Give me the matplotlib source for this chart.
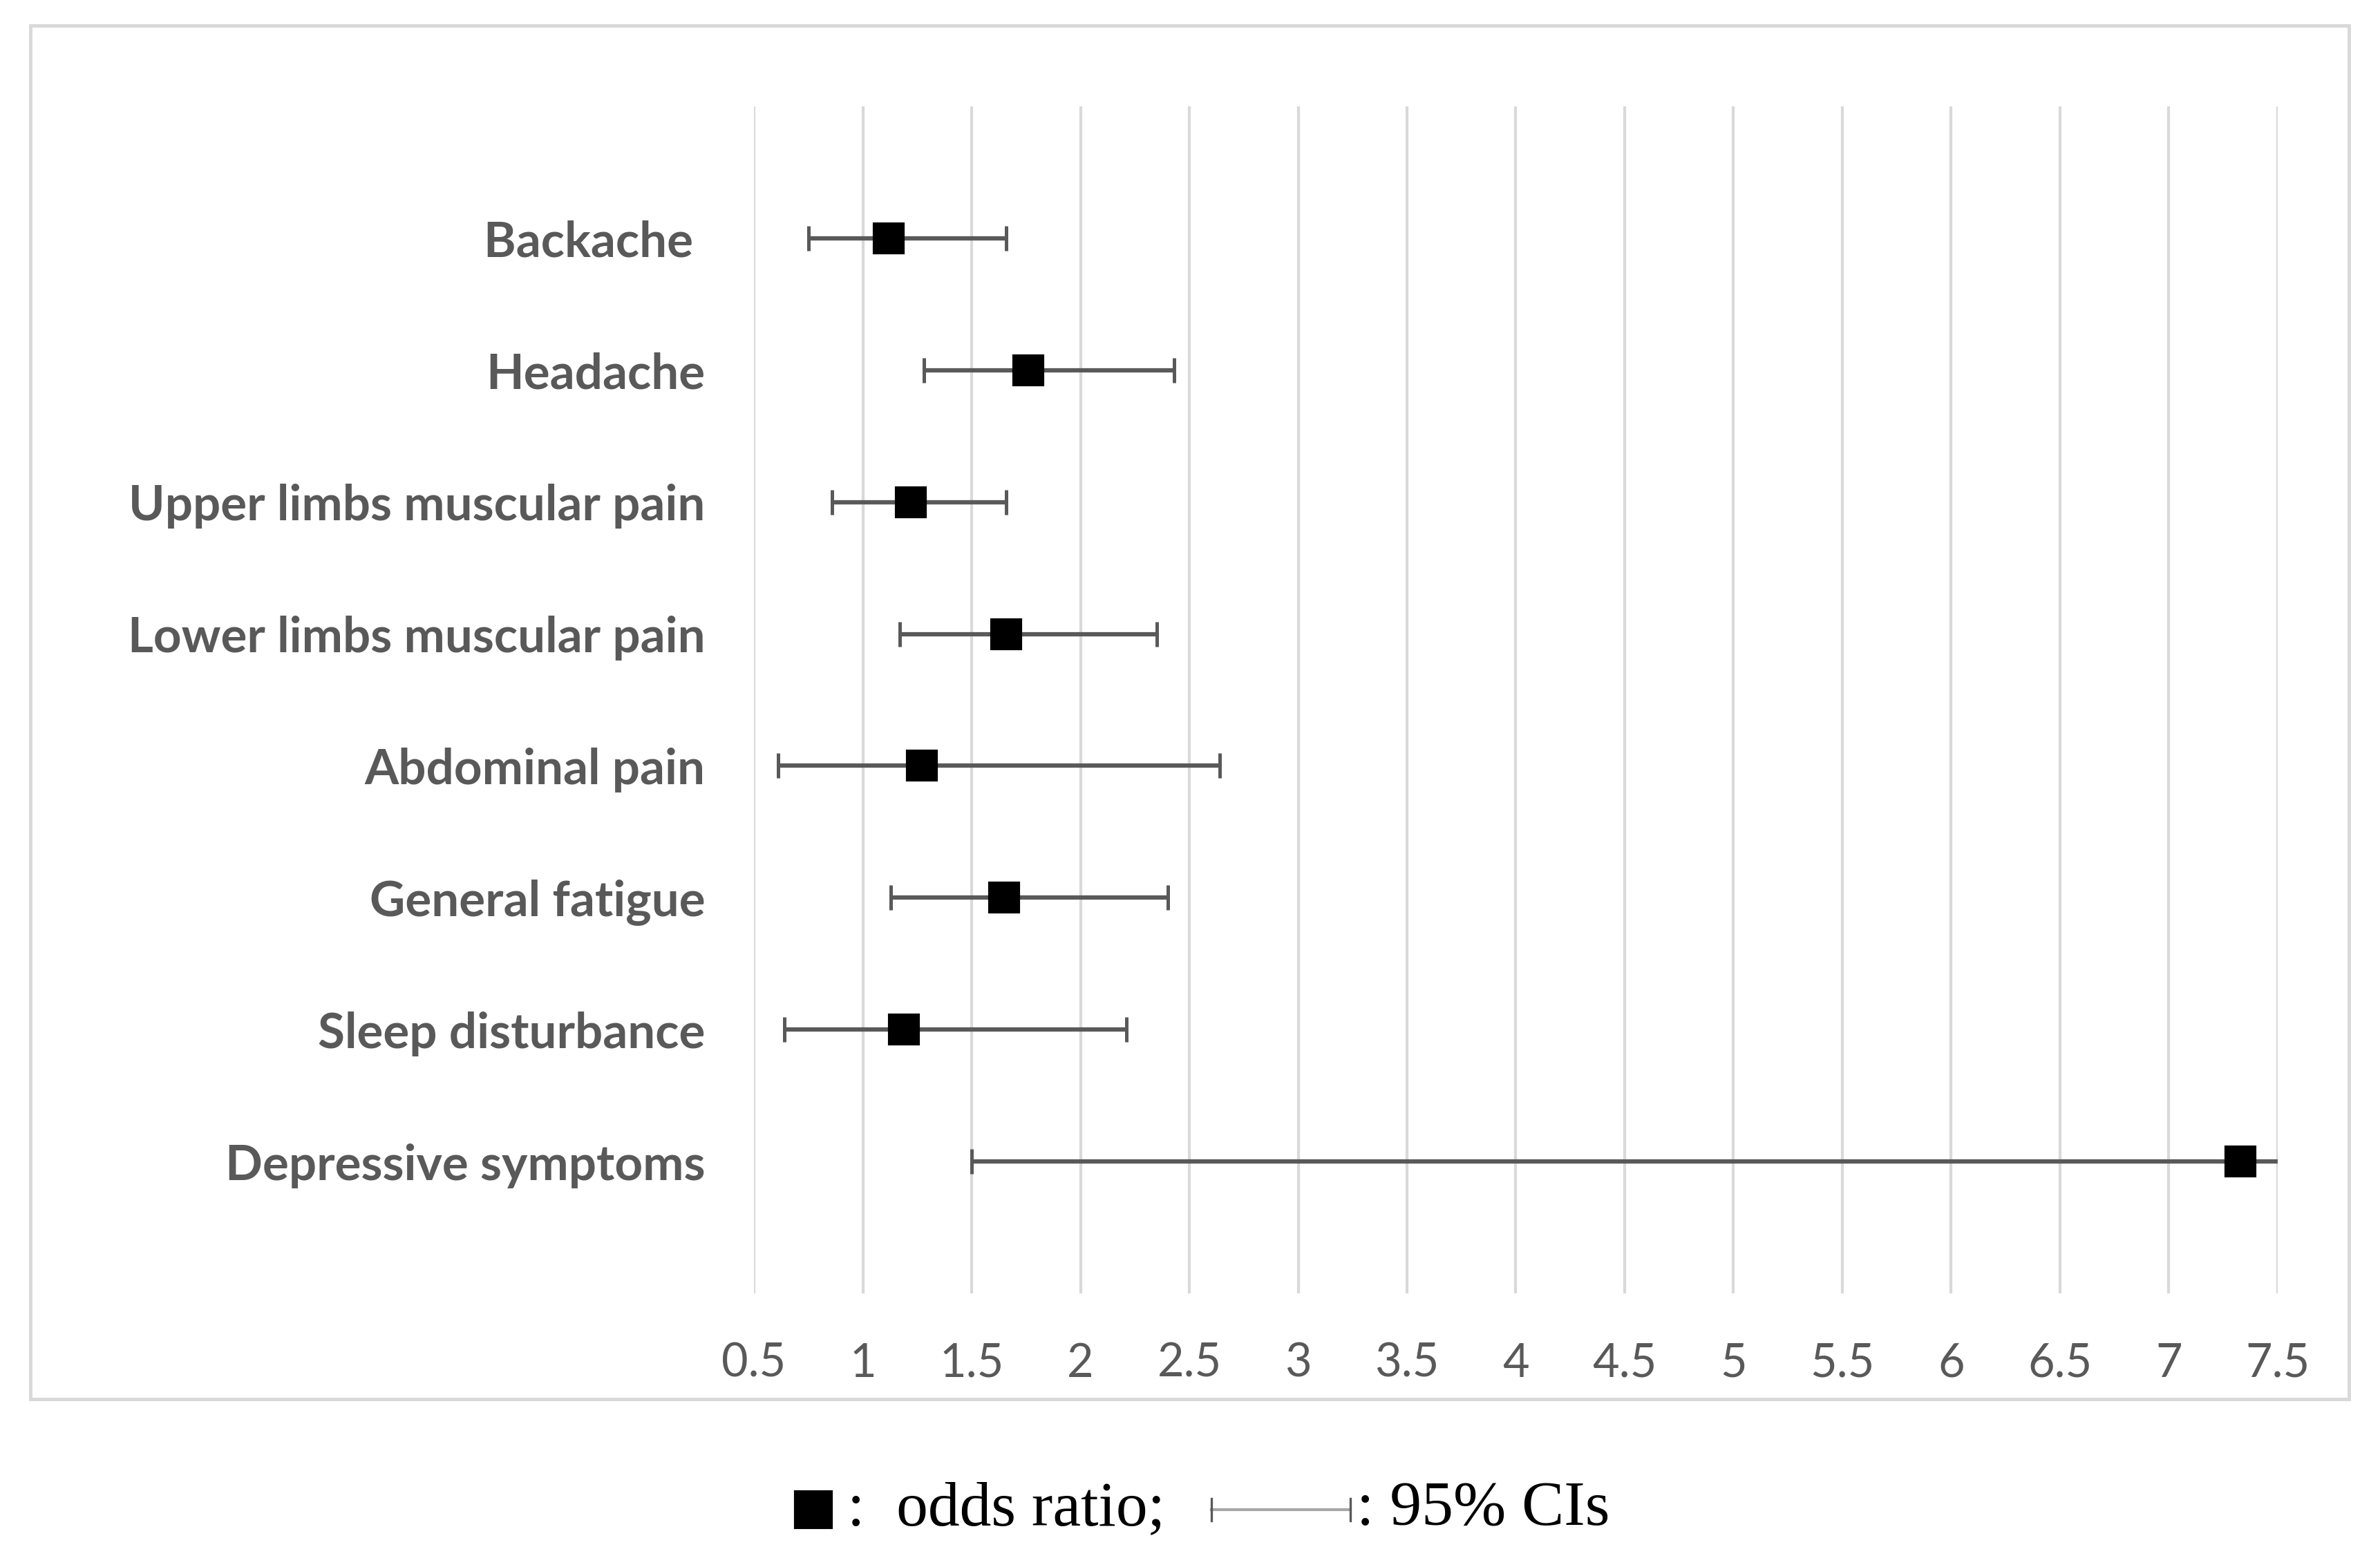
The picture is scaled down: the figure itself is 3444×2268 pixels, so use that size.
import matplotlib.pyplot as plt
from matplotlib.lines import Line2D
from matplotlib.patches import Rectangle

# Odds ratios with 95% CIs.
SYMPTOMS = [
    "Backache ",
    "Headache",
    "Upper limbs muscular pain",
    "Lower limbs muscular pain",
    "Abdominal pain",
    "General fatigue",
    "Sleep disturbance",
    "Depressive symptoms",
]
ODDS_RATIO = [1.12, 1.76, 1.22, 1.66, 1.27, 1.65, 1.19, 7.33]
CI_LOW = [0.75, 1.28, 0.86, 1.17, 0.61, 1.13, 0.64, 1.50]
CI_HIGH = [1.66, 2.43, 1.66, 2.35, 2.64, 2.40, 2.21, 8.00]  # last one runs off the axis
X_TICKS = [0.5, 1, 1.5, 2, 2.5, 3, 3.5, 4, 4.5, 5, 5.5, 6, 6.5, 7, 7.5]

TEXT = "#595959"
GRID = "#d9d9d9"
SANS = ["Lato", "DejaVu Sans"]
SERIF = ["Liberation Serif", "DejaVu Serif"]


def main():
    fig = plt.figure(figsize=(11.48, 7.56), dpi=300)
    ax = fig.add_axes([0.3168, 0.1746, 0.9570 - 0.3168, 0.9321 - 0.1746])

    ypos = list(range(len(SYMPTOMS)))
    xerr = [[o - lo for o, lo in zip(ODDS_RATIO, CI_LOW)],
            [hi - o for o, hi in zip(ODDS_RATIO, CI_HIGH)]]
    ax.errorbar(ODDS_RATIO, ypos, xerr=xerr, fmt="none", ecolor=TEXT,
                elinewidth=1.5, capsize=4.4, capthick=1.2, zorder=3)
    ax.plot(ODDS_RATIO, ypos, ls="none", marker="s", ms=10,
            mfc="black", mec="black", zorder=4)

    ax.set_xlim(0.5, 7.5)
    ax.set_ylim(len(SYMPTOMS), -1)
    ax.set_xticks(X_TICKS)
    ax.set_xticklabels([f"{t:g}" for t in X_TICKS], family=SANS,
                       fontsize=16, color=TEXT)
    ax.set_yticks(ypos)
    ax.set_yticklabels(SYMPTOMS, family=SANS, fontsize=17,
                       fontweight="bold", color=TEXT)
    ax.tick_params(axis="x", length=0, pad=17)
    ax.tick_params(axis="y", length=0, pad=17)
    ax.grid(axis="x", color=GRID, lw=1.0)
    ax.set_axisbelow(True)
    for sp in ax.spines.values():
        sp.set_visible(False)

    # outer chart border
    fig.add_artist(Rectangle((0.0128, 0.1071), 0.9741, 0.8766,
                             transform=fig.transFigure, fill=False,
                             ec=GRID, lw=1.2))

    # hand-made key under the chart
    ky = 0.0366
    fig.add_artist(Line2D([0.3417], [ky], transform=fig.transFigure,
                          ls="none", marker="s", ms=12.5,
                          mfc="black", mec="black"))
    fig.text(0.3560, ky, ":  odds ratio;", family=SERIF, fontsize=22,
             va="center", ha="left", color="black")
    fig.add_artist(Line2D([0.509, 0.5674], [ky, ky], transform=fig.transFigure,
                          color="#a6a6a6", lw=1.0))
    for cx in (0.509, 0.5674):
        fig.add_artist(Line2D([cx, cx], [ky - 0.007, ky + 0.007],
                              transform=fig.transFigure, color=TEXT, lw=0.8))
    fig.text(0.5700, ky, ": 95% CIs", family=SERIF, fontsize=22,
             va="center", ha="left", color="black")

    fig.savefig("out.png", dpi=300, facecolor="white")


if __name__ == "__main__":
    main()
